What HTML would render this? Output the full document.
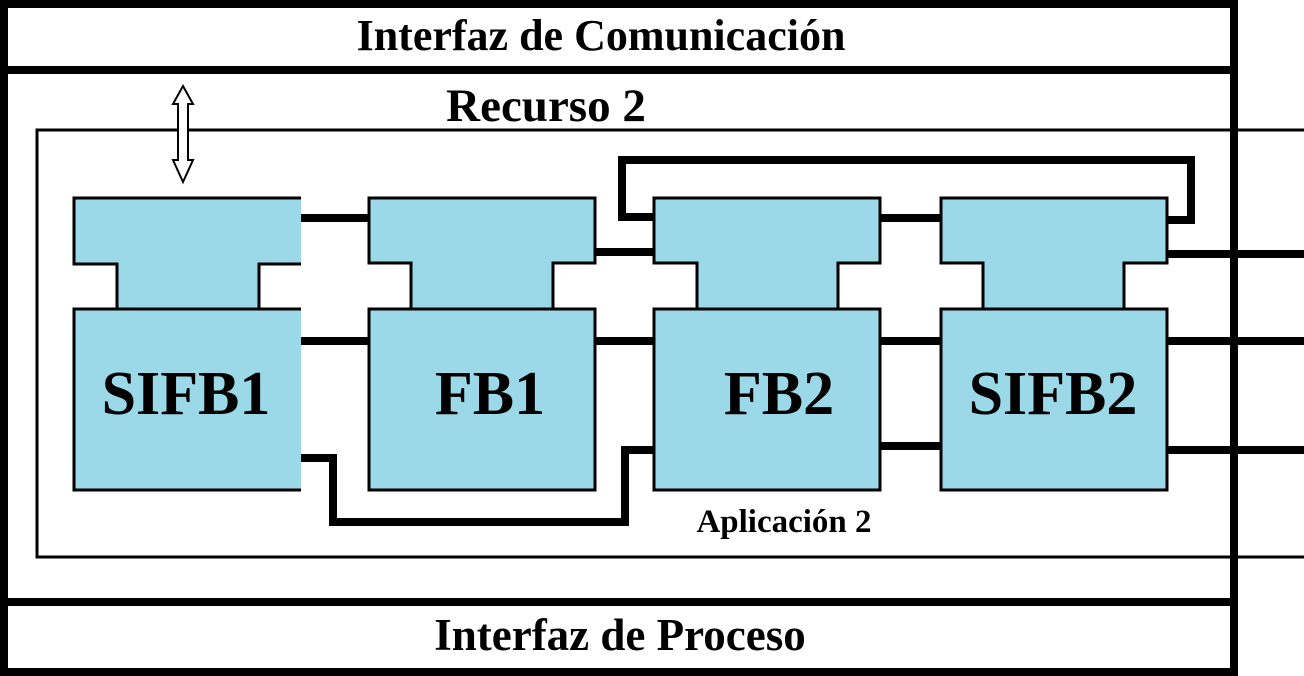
<!DOCTYPE html>
<html><head><meta charset="utf-8"><style>
html,body{margin:0;padding:0;background:#fff;width:1304px;height:676px;overflow:hidden}
svg text{font-family:"Liberation Serif",serif;font-weight:bold;fill:#000}
</style></head><body>
<svg width="1304" height="676" viewBox="0 0 1304 676" xmlns="http://www.w3.org/2000/svg">
<rect width="1304" height="676" fill="#fff"/>
<rect x="4" y="4" width="1230" height="668" fill="none" stroke="#000" stroke-width="8"/>
<line x1="0" y1="70" x2="1234" y2="70" stroke="#000" stroke-width="8"/>
<line x1="0" y1="602" x2="1234" y2="602" stroke="#000" stroke-width="8"/>
<polyline points="1304,130 37,130 37,557 1304,557" fill="none" stroke="#000" stroke-width="3"/>
<text x="601" y="50" font-size="44" text-anchor="middle">Interfaz de Comunicación</text>
<text x="546" y="121" font-size="47" text-anchor="middle">Recurso 2</text>
<text x="620" y="650" font-size="45" text-anchor="middle">Interfaz de Proceso</text>
<polygon points="183,86 193,104 188,104 188,160 193,160 183,182 173,160 178,160 178,104 173,104" fill="#fff" stroke="#000" stroke-width="2"/>
<g fill="none" stroke="#000" stroke-width="8">
<line x1="300" y1="218" x2="369" y2="218"/>
<line x1="300" y1="341" x2="369" y2="341"/>
<line x1="595" y1="252" x2="653" y2="252"/>
<line x1="595" y1="341" x2="653" y2="341"/>
<line x1="880" y1="218" x2="940" y2="218"/>
<line x1="880" y1="341" x2="940" y2="341"/>
<line x1="880" y1="446" x2="940" y2="446"/>
<polyline points="653,217 622,217 622,160 1191,160 1191,220 1167,220"/>
<line x1="1167" y1="254" x2="1304" y2="254"/>
<line x1="1167" y1="341" x2="1304" y2="341"/>
<line x1="1167" y1="450" x2="1304" y2="450"/>
<polyline points="300,458 333,458 333,522 625,522 625,450 653,450"/>
</g>
<path d="M301,198 H74 V264 H117 V309 H74 V490 H301 V309 H259 V264 H301 Z" fill="#9bd8e8"/>
<path d="M301,198 H74 V264 H117 V309 H74 V490 H301 M301,264 H259 V309 H301 M74,309 H301" fill="none" stroke="#000" stroke-width="3"/>
<g fill="#9bd8e8" stroke="#000" stroke-width="3">
<path d="M369,198 H595 V263 H553 V309 H595 V490 H369 V309 H411 V263 H369 Z"/>
<path d="M654,198 H880 V263 H838 V309 H880 V490 H654 V309 H697 V263 H654 Z"/>
<path d="M941,198 H1167 V263 H1124 V309 H1167 V490 H941 V309 H983 V263 H941 Z"/>
</g>
<g stroke="#000" stroke-width="3">
<line x1="369" y1="309" x2="595" y2="309"/>
<line x1="654" y1="309" x2="880" y2="309"/>
<line x1="941" y1="309" x2="1167" y2="309"/>
</g>
<text x="186" y="414" font-size="62" text-anchor="middle">SIFB1</text>
<text x="490" y="414" font-size="62" text-anchor="middle">FB1</text>
<text x="779" y="414" font-size="62" text-anchor="middle">FB2</text>
<text x="1053" y="414" font-size="62" text-anchor="middle">SIFB2</text>
<text x="784" y="532" font-size="33" text-anchor="middle">Aplicación 2</text>
</svg>
</body></html>
